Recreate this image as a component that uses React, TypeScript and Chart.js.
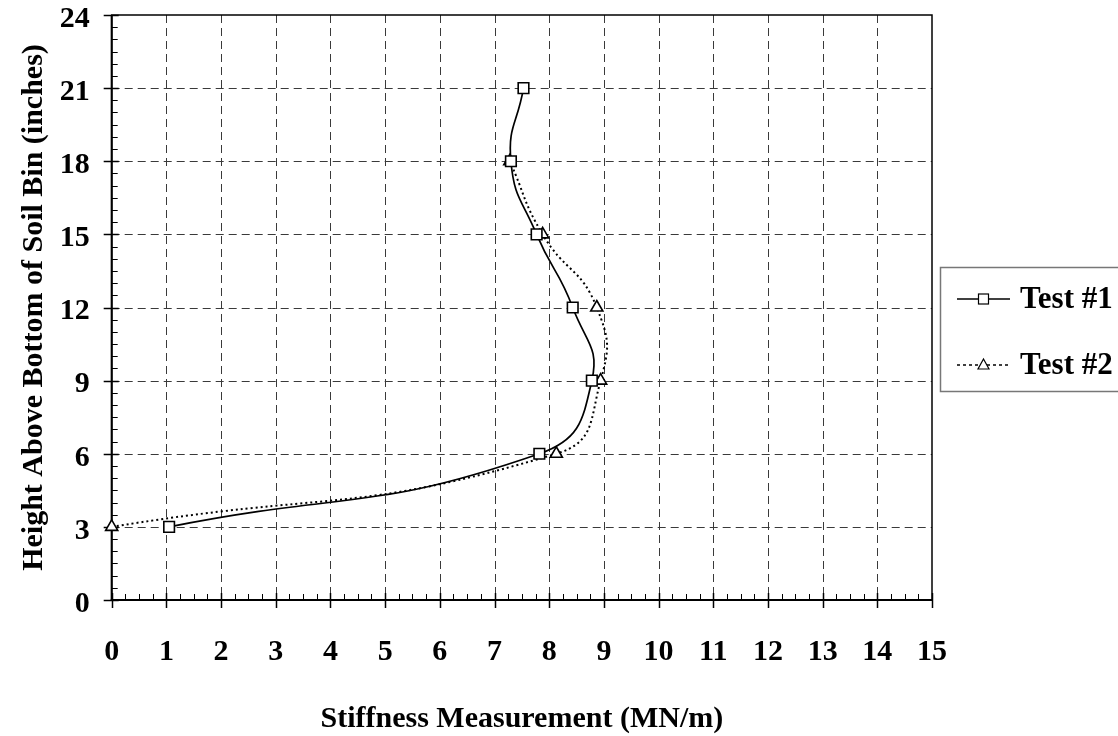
import React, { useEffect, useRef } from "react";
import { Chart, registerables } from "chart.js";

Chart.register(...registerables);

// ---- data ----
const seriesNames = ["Test #1", "Test #2"];
const heights1 = [3, 6, 9, 12, 15, 18, 21];
const stiffness1 = [1.05, 7.82, 8.78, 8.43, 7.77, 7.3, 7.53];
const heights2 = [3, 6, 9, 12, 15, 18];
const stiffness2 = [0, 8.13, 8.94, 8.87, 7.88, 7.28];
const xTickValues = [0, 1, 2, 3, 4, 5, 6, 7, 8, 9, 10, 11, 12, 13, 14, 15];
const yTickValues = [0, 3, 6, 9, 12, 15, 18, 21, 24];
const xMinorStep = 0.25;
const yMinorStep = 0.5;
const xTitle = "Stiffness Measurement (MN/m)";
const yTitle = "Height Above Bottom of Soil Bin (inches)";

const FONT_FAMILY = '"Liberation Serif", "Times New Roman", serif';
const W = 1118;
const H = 736;

const framePlugin = {
  id: "frame",
  beforeDatasetsDraw(chart: any) {
    const { ctx, chartArea: a, scales } = chart;
    const x = scales.x;
    const y = scales.y;
    const line = (x1: number, y1: number, x2: number, y2: number) => {
      ctx.beginPath();
      ctx.moveTo(x1, y1);
      ctx.lineTo(x2, y2);
      ctx.stroke();
    };
    ctx.save();
    // dashed grid
    ctx.strokeStyle = "#3a3a3a";
    ctx.lineWidth = 1;
    ctx.setLineDash([8, 5]);
    xTickValues.forEach((v) => {
      if (v === x.min || v === x.max) return;
      const px = Math.round(x.getPixelForValue(v)) + 0.5;
      line(px, a.top, px, a.bottom);
    });
    yTickValues.forEach((v) => {
      if (v === y.min || v === y.max) return;
      const py = Math.round(y.getPixelForValue(v)) + 0.5;
      line(a.left, py, a.right, py);
    });
    ctx.setLineDash([]);
    // minor ticks (inward)
    ctx.strokeStyle = "#000";
    ctx.lineWidth = 1;
    for (let v = x.min; v <= x.max + 1e-9; v += xMinorStep) {
      const px = Math.round(x.getPixelForValue(v)) + 0.5;
      line(px, a.bottom, px, a.bottom - 6);
    }
    for (let v = y.min; v <= y.max + 1e-9; v += yMinorStep) {
      const py = Math.round(y.getPixelForValue(v)) + 0.5;
      line(a.left, py, a.left + 6, py);
    }
    // major ticks (crossing)
    ctx.lineWidth = 1.5;
    xTickValues.forEach((v) => {
      const px = Math.round(x.getPixelForValue(v)) + 0.5;
      line(px, a.bottom - 7, px, a.bottom + 8);
    });
    yTickValues.forEach((v) => {
      const py = Math.round(y.getPixelForValue(v)) + 0.5;
      line(a.left - 8, py, a.left + 7, py);
    });
    // frame
    ctx.lineWidth = 1.5;
    ctx.strokeRect(a.left, a.top, a.right - a.left, a.bottom - a.top);
    ctx.lineWidth = 2;
    line(a.left, a.top, a.left, a.bottom + 1);
    line(a.left - 1, a.bottom, a.right, a.bottom);
    ctx.restore();
  },
  afterDraw(chart: any) {
    const { ctx, chartArea: a } = chart;
    ctx.save();
    ctx.fillStyle = "#000";
    ctx.font = `bold 30px ${FONT_FAMILY}`;
    // x title
    ctx.textAlign = "center";
    ctx.textBaseline = "alphabetic";
    ctx.fillText(xTitle, (a.left + a.right) / 2, 727);
    // y title
    ctx.save();
    ctx.translate(42, (a.top + a.bottom) / 2);
    ctx.rotate(-Math.PI / 2);
    ctx.fillText(yTitle, 0, 0);
    ctx.restore();

    // legend
    const lx = 940.5;
    const ly = 267.5;
    ctx.strokeStyle = "#777";
    ctx.lineWidth = 1.5;
    ctx.strokeRect(lx, ly, W - lx + 5, 124);
    const rows = [299, 365];
    const ds = chart.data.datasets;
    rows.forEach((ry, i) => {
      const d = ds[i];
      ctx.strokeStyle = "#000";
      ctx.lineWidth = 1.5;
      ctx.setLineDash(d.borderDash ? [3, 3] : []);
      ctx.beginPath();
      ctx.moveTo(957, ry);
      ctx.lineTo(1010, ry);
      ctx.stroke();
      ctx.setLineDash([]);
      ctx.fillStyle = "#fff";
      ctx.lineWidth = 1.2;
      if (d.pointStyle === "rect") {
        ctx.fillRect(978.5, ry - 5, 10, 10);
        ctx.strokeRect(978.5, ry - 5, 10, 10);
      } else {
        ctx.beginPath();
        ctx.moveTo(983.5, ry - 6);
        ctx.lineTo(989, ry + 4);
        ctx.lineTo(978, ry + 4);
        ctx.closePath();
        ctx.fill();
        ctx.stroke();
      }
      ctx.fillStyle = "#000";
      ctx.textAlign = "left";
      ctx.textBaseline = "middle";
      ctx.font = `bold 31px ${FONT_FAMILY}`;
      ctx.fillText(d.label, 1020, ry + 1);
    });
    ctx.restore();
  },
};

export default function App() {
  const ref = useRef<HTMLCanvasElement | null>(null);

  useEffect(() => {
    if (!ref.current) return;
    const data1 = heights1.map((h, i) => ({ x: stiffness1[i], y: h }));
    const data2 = heights2.map((h, i) => ({ x: stiffness2[i], y: h }));
    const tickFont = { family: FONT_FAMILY, size: 30, weight: "bold" as const };
    const chart = new Chart(ref.current, {
      type: "scatter",
      data: {
        datasets: [
          {
            label: seriesNames[0],
            data: data1,
            showLine: true,
            tension: 0.5,
            borderColor: "#000",
            borderWidth: 1.7,
            pointStyle: "rect",
            pointRadius: 7.5,
            pointBorderWidth: 1.6,
            pointBackgroundColor: "#fff",
            pointBorderColor: "#000",
            clip: false,
          } as any,
          {
            label: seriesNames[1],
            data: data2,
            showLine: true,
            tension: 0.5,
            borderColor: "#000",
            borderWidth: 2,
            borderDash: [2, 3],
            pointStyle: "triangle",
            pointRadius: 7,
            pointBorderWidth: 1.6,
            pointBackgroundColor: "#fff",
            pointBorderColor: "#000",
            clip: false,
          } as any,
        ],
      },
      options: {
        responsive: false,
        animation: false,
        layout: { padding: { left: 0, top: 15, right: W - 932, bottom: 0 } },
        plugins: { legend: { display: false }, tooltip: { enabled: false } },
        scales: {
          x: {
            type: "linear",
            min: 0,
            max: 15,
            afterBuildTicks: (scale: any) => {
              scale.ticks = xTickValues.map((v) => ({ value: v }));
            },
            afterFit: (scale: any) => {
              scale.height = H - 600;
              scale.paddingLeft = 0;
              scale.paddingRight = 0;
            },
            ticks: { color: "#000", font: tickFont, padding: 34, maxRotation: 0, autoSkip: false },
            grid: { display: false, drawTicks: false },
            border: { display: false },
          },
          y: {
            type: "linear",
            min: 0,
            max: 24,
            afterBuildTicks: (scale: any) => {
              scale.ticks = yTickValues.map((v) => ({ value: v }));
            },
            afterFit: (scale: any) => {
              scale.width = 111.7;
              scale.paddingTop = 0;
              scale.paddingBottom = 0;
            },
            ticks: { color: "#000", font: tickFont, padding: 22, labelOffset: 4, autoSkip: false },
            grid: { display: false, drawTicks: false },
            border: { display: false },
          },
        },
      },
      plugins: [framePlugin],
    });
    return () => chart.destroy();
  }, []);

  return (
    <div style={{ position: "fixed", left: 0, top: 0, width: W, height: H, background: "#fff" }}>
      <canvas ref={ref} width={W} height={H} style={{ display: "block", width: W, height: H }} />
    </div>
  );
}
